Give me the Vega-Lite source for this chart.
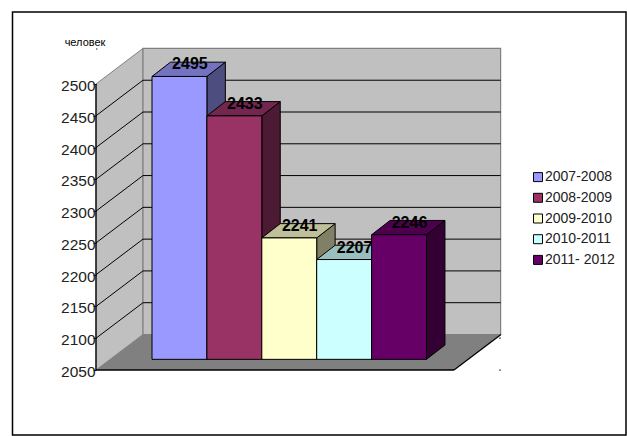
{
"$schema":"https://vega.github.io/schema/vega-lite/v6.json",
"width":627,"height":436,"padding":0,
"autosize":{"type":"fit","contains":"padding"},
"background":"white",
"config":{"view":{"stroke":null},"font":"Liberation Sans"},
"data":{"values":[
{"period":"2007-2008","value":2495},
{"period":"2008-2009","value":2433},
{"period":"2009-2010","value":2241},
{"period":"2010-2011","value":2207},
{"period":"2011- 2012","value":2246}
]},
"encoding":{
"x":{"field":"x","type":"quantitative","axis":null,"scale":{"domain":[-2.7687,8.6521],"nice":false,"zero":false}},
"y":{"field":"y","type":"quantitative","scale":{"domain":[1946.2,2632.1],"nice":false,"zero":false},
"axis":{"title":null,"offset":-96,"domain":false,"grid":false,"format":"d","values":[2050,2100,2150,2200,2250,2300,2350,2400,2450,2500],"tickColor":"black","tickSize":3,"labelPadding":-2,"labelFont":"Liberation Sans","labelFontSize":15.5,"labelColor":"#222222","labelOffset":1.5,"zindex":1,"labelOverlap":false,"labelBound":false,"labelFlush":false}}
},
"resolve":{"scale":{"color":"independent"}},
"layer":[
{"data":{"values":[{"part":"frame"}]},
"transform":[{"calculate":"-2.541","as":"x"},{"calculate":"8.634","as":"x2"},{"calculate":"2613.2","as":"y"},{"calculate":"1947.7","as":"y2"}],
"mark":{"type":"rect","fill":"white","stroke":"black","strokeWidth":1.5},
"encoding":{"x2":{"field":"x2"},"y2":{"field":"y2"}}},

{"data":{"values":[{"edge":0},{"edge":1}]},
"transform":[{"calculate":"-1.02+datum.edge*0.856","as":"x"},{"calculate":"2500+datum.edge*55.9","as":"y"},{"calculate":"2050+datum.edge*55.9","as":"y2"}],
"mark":{"type":"area","fill":"#c0c0c0","stroke":"#808080","strokeWidth":1},
"encoding":{"y2":{"field":"y2"}}},

{"data":{"values":[{"part":"back wall"}]},
"transform":[{"calculate":"-0.164","as":"x"},{"calculate":"6.35","as":"x2"},{"calculate":"2555.9","as":"y"},{"calculate":"2105.9","as":"y2"}],
"mark":{"type":"rect","fill":"#c0c0c0","stroke":"#808080","strokeWidth":1.2},
"encoding":{"x2":{"field":"x2"},"y2":{"field":"y2"}}},

{"data":{"values":[{"edge":0},{"edge":1}]},
"transform":[{"calculate":"-1.02+datum.edge*0.856","as":"x"},{"calculate":"5.501+datum.edge*0.856","as":"x2"},{"calculate":"2050+datum.edge*55.9","as":"y"}],
"mark":{"type":"area","orient":"horizontal","fill":"#808080"},
"encoding":{"x2":{"field":"x2"}}},

{"data":{"values":[{"level":2100},{"level":2150},{"level":2200},{"level":2250},{"level":2300},{"level":2350},{"level":2400},{"level":2450}]},
"transform":[{"calculate":"-1.02","as":"x"},{"calculate":"-0.164","as":"x2"},{"calculate":"datum.level","as":"y"},{"calculate":"datum.level+55.9","as":"y2"}],
"mark":{"type":"rule","color":"black","strokeWidth":1},
"encoding":{"x2":{"field":"x2"},"y2":{"field":"y2"}}},

{"data":{"values":[{"level":2100},{"level":2150},{"level":2200},{"level":2250},{"level":2300},{"level":2350},{"level":2400},{"level":2450}]},
"transform":[{"calculate":"-0.164","as":"x"},{"calculate":"6.35","as":"x2"},{"calculate":"datum.level+55.9","as":"y"}],
"mark":{"type":"rule","color":"black","strokeWidth":1},
"encoding":{"x2":{"field":"x2"}}},

{"data":{"values":[{"part":"axis"},{"part":"front"},{"part":"corner"}]},
"transform":[
{"calculate":"datum.part==='axis'?-1.02:datum.part==='front'?-1.02:5.501","as":"x"},
{"calculate":"datum.part==='axis'?-1.02:datum.part==='front'?5.501:6.357","as":"x2"},
{"calculate":"2050","as":"y"},
{"calculate":"datum.part==='axis'?2500:datum.part==='front'?2050:2105.9","as":"y2"}],
"mark":{"type":"rule","color":"black","strokeWidth":1.3},
"encoding":{"x2":{"field":"x2"},"y2":{"field":"y2"}}},

{"transform":[
{"window":[{"op":"row_number","as":"slot"}]},
{"calculate":"[0,1]","as":"edge"},{"flatten":["edge"]},
{"calculate":"datum.slot+datum.edge*0.336","as":"x"},
{"calculate":"datum.value+16.8+datum.edge*22.5","as":"y"},
{"calculate":"2066.8+datum.edge*22.5","as":"y2"}],
"mark":{"type":"area","stroke":"black","strokeWidth":1},
"encoding":{"y2":{"field":"y2"},
"color":{"field":"period","type":"nominal","legend":null,"scale":{"domain":["2007-2008","2008-2009","2009-2010","2010-2011","2011- 2012"],"range":["#4d4d80","#4d1a33","#808066","#668080","#330033"]}}}},

{"transform":[
{"window":[{"op":"row_number","as":"slot"}]},
{"calculate":"[0,1]","as":"edge"},{"flatten":["edge"]},
{"calculate":"datum.slot-1+datum.edge*0.336","as":"x"},
{"calculate":"datum.slot+datum.edge*0.336","as":"x2"},
{"calculate":"datum.value+16.8+datum.edge*22.5","as":"y"}],
"mark":{"type":"area","orient":"horizontal","stroke":"black","strokeWidth":1},
"encoding":{"x2":{"field":"x2"},
"color":{"field":"period","type":"nominal","legend":null,"scale":{"domain":["2007-2008","2008-2009","2009-2010","2010-2011","2011- 2012"],"range":["#7373bf","#732650","#bfbf99","#99bfbf","#4d004d"]}}}},

{"transform":[
{"window":[{"op":"row_number","as":"slot"}]},
{"calculate":"datum.slot-1","as":"x"},
{"calculate":"datum.slot","as":"x2"},
{"calculate":"datum.value+16.8","as":"y"},
{"calculate":"2066.8","as":"y2"}],
"mark":{"type":"rect","stroke":"black","strokeWidth":1},
"encoding":{"x2":{"field":"x2"},"y2":{"field":"y2"},
"color":{"field":"period","type":"nominal",
"scale":{"domain":["2007-2008","2008-2009","2009-2010","2010-2011","2011- 2012"],"range":["#9999ff","#993366","#ffffcc","#ccffff","#660066"]},
"legend":{"title":null,"orient":"none","legendX":531,"legendY":169,"padding":0,"symbolType":"square","symbolSize":81,"symbolStrokeColor":"black","symbolStrokeWidth":1,"symbolOpacity":1,"labelFont":"Liberation Sans","labelFontSize":14,"labelColor":"#222222","labelOffset":0,"rowPadding":3.7,"clipHeight":16.2}}}},

{"transform":[
{"window":[{"op":"row_number","as":"slot"}]},
{"calculate":"datum.slot-0.5+0.19","as":"x"},
{"calculate":"datum.value+16.8","as":"y"}],
"mark":{"type":"text","font":"Liberation Sans","fontSize":16,"fontWeight":"bold","color":"black","dy":-12,"baseline":"middle","align":"center"},
"encoding":{"text":{"field":"value","type":"quantitative","format":"d"}}},

{"data":{"values":[{"note":"человек"}]},
"transform":[{"calculate":"-1.22","as":"x"},{"calculate":"2564.5","as":"y"}],
"mark":{"type":"text","font":"Liberation Sans","fontSize":11,"color":"black","baseline":"middle","align":"center"},
"encoding":{"text":{"field":"note","type":"nominal"}}},

{"data":{"values":[{"dot":"a"},{"dot":"b"},{"dot":"c"}]},
"transform":[
{"calculate":"datum.dot==='a'?-1.007:6.339","as":"x"},
{"calculate":"datum.dot==='a'?2555:datum.dot==='b'?2050:2100","as":"y"}],
"mark":{"type":"point","shape":"square","filled":true,"size":1.5,"color":"black","opacity":1}}
]
}
